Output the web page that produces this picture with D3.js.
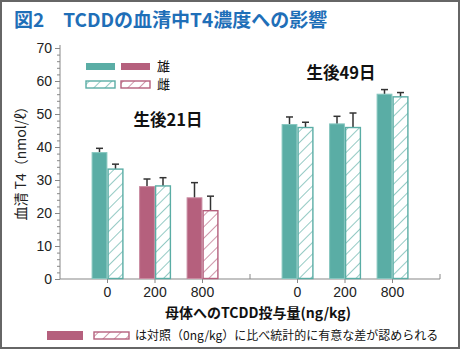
<!DOCTYPE html>
<html><head><meta charset="utf-8">
<script src="https://cdn.jsdelivr.net/npm/d3@7"></script>
<style>
html,body{margin:0;padding:0;background:#fff;}
svg{display:block;font-family:"Liberation Sans","Noto Sans CJK JP",sans-serif;}
</style></head>
<body>
<script>
// ---- data ----
const panels = ["生後21日", "生後49日"];
const doses = ["0", "200", "800"];
const maleMean   = [[38.3, 28.0, 24.6], [46.8, 47.0, 56.0]];
const maleErr    = [[1.3, 2.3, 4.6],   [2.3, 2.3, 1.4]];
const femaleMean = [[33.3, 28.2, 20.7], [45.9, 45.9, 55.2]];
const femaleErr  = [[1.5, 2.5, 4.4],   [1.6, 4.4, 1.3]];
const maleSig    = [[false, true, true],  [false, false, false]];
const femaleSig  = [[false, false, true], [false, false, false]];
const yTicks = [0, 10, 20, 30, 40, 50, 60, 70];
const legendLabels = ["雄", "雌"];
const titleText = "図2　TCDDの血清中T4濃度への影響";
const yLabel = "血清 T4（nmol/ℓ）";
const xLabel = "母体へのTCDD投与量(ng/kg)";
const noteText = "は対照（0ng/kg）に比べ統計的に有意な差が認められる";

const W = 460, H = 349;
const TEAL = "#5aada5", TEAL_E = "#86c6bf", ROSE = "#b5607d", ROSE_E = "#c98aa0";

const svg = d3.select("body").append("svg").attr("width", W).attr("height", H);
const defs = svg.append("defs");
function hatch(id, color) {
  const p = defs.append("pattern").attr("id", id).attr("patternUnits", "userSpaceOnUse")
    .attr("width", 8).attr("height", 8).attr("patternTransform", "rotate(45)");
  p.append("rect").attr("width", 8).attr("height", 8).attr("fill", "#fff");
  p.append("line").attr("x1", 0).attr("y1", 0).attr("x2", 0).attr("y2", 8)
    .attr("stroke", color).attr("stroke-width", 1.3);
}
hatch("hT", TEAL); hatch("hR", ROSE);

// frame
svg.append("rect").attr("x", 1).attr("y", 1).attr("width", W - 2).attr("height", H - 2)
  .attr("fill", "#fff").attr("stroke", "#666").attr("stroke-width", 2);

// title
svg.append("text").attr("x", 14).attr("y", 27).attr("fill", "#1f6fb8")
  .attr("font-size", 19).attr("font-weight", "bold")
  .attr("font-family", "'Noto Sans CJK JP',sans-serif").text(titleText);

// scales
const y = d3.scaleLinear().domain([0, 70]).range([279, 48]);
const xPanel = d3.scaleBand().domain(panels).range([60, 440]);
const xDose = d3.scaleBand().domain(doses).range([0, xPanel.bandwidth()]).paddingOuter(0.5);
const xSex = d3.scaleBand().domain(["m", "f"]).range([-16, 16]);
const cx = (p, d) => xPanel(p) + xDose(d) + xDose.bandwidth() / 2;

// y axis
const yAxisG = svg.append("g").attr("transform", "translate(60,0)");
yAxisG.call(d3.axisLeft(y).tickValues(d3.range(0, 71, 2)).tickSize(3).tickFormat(""));
yAxisG.call(g => g.selectAll(".tick line").attr("stroke", "#888"));
yAxisG.select(".domain").attr("stroke", "#888").attr("d", "M0,45V279");
const yLab = svg.append("g").attr("transform", "translate(60,0)")
  .call(d3.axisLeft(y).tickValues(yTicks).tickSize(5).tickPadding(3));
yLab.select(".domain").remove();
yLab.selectAll(".tick line").attr("stroke", "#888");
yLab.selectAll("text").attr("font-size", 14).attr("fill", "#222")
  .attr("font-family", "'Liberation Sans',sans-serif");

// x axis line
svg.append("line").attr("x1", 60).attr("x2", 440).attr("y1", 279).attr("y2", 279)
  .attr("stroke", "#888").attr("stroke-width", 1.2);
[xPanel(panels[1]), 440].forEach(xx => svg.append("line").attr("x1", xx).attr("x2", xx)
  .attr("y1", 279).attr("y2", 274).attr("stroke", "#888"));

panels.forEach((p, pi) => {
  const g = svg.append("g").attr("transform", `translate(${xPanel(p)},279)`);
  const ax = d3.axisBottom(xDose).tickSize(4).tickPadding(4);
  g.call(ax);
  g.select(".domain").remove();
  g.selectAll(".tick line").attr("stroke", "#888");
  g.selectAll("text").attr("font-size", 14).attr("fill", "#222")
    .attr("font-family", "'Liberation Sans',sans-serif");

  doses.forEach((d, di) => {
    const c = cx(p, d);
    const bars = [
      {k: "m", v: maleMean[pi][di], e: maleErr[pi][di], sig: maleSig[pi][di], solid: true},
      {k: "f", v: femaleMean[pi][di], e: femaleErr[pi][di], sig: femaleSig[pi][di], solid: false}
    ];
    bars.forEach(b => {
      const x0 = c + xSex(b.k);
      const col = b.sig ? ROSE : TEAL;
      const edge = b.sig ? ROSE_E : TEAL_E;
      const xm = x0 + xSex.bandwidth() / 2;
      svg.append("line").attr("x1", xm).attr("x2", xm).attr("y1", y(b.v)).attr("y2", y(b.v + b.e))
        .attr("stroke", "#333").attr("stroke-width", 1.5);
      svg.append("line").attr("x1", xm - 3.5).attr("x2", xm + 3.5).attr("y1", y(b.v + b.e)).attr("y2", y(b.v + b.e))
        .attr("stroke", "#333").attr("stroke-width", 1.5);
      svg.append("rect").attr("x", x0 + 0.6).attr("y", y(b.v))
        .attr("width", xSex.bandwidth() - 1.2).attr("height", y(0) - y(b.v) - 0.5)
        .attr("fill", b.solid ? col : (b.sig ? "url(#hR)" : "url(#hT)"))
        .attr("stroke", b.solid ? edge : col).attr("stroke-width", b.solid ? 1 : 1.4);
    });
  });
});

// panel labels
svg.append("text").attr("x", 168).attr("y", 126).attr("text-anchor", "middle")
  .attr("font-size", 16.5).attr("font-weight", "bold").attr("fill", "#111")
  .attr("font-family", "'Noto Sans CJK JP',sans-serif").text(panels[0]);
svg.append("text").attr("x", 341).attr("y", 79).attr("text-anchor", "middle")
  .attr("font-size", 16.5).attr("font-weight", "bold").attr("fill", "#111")
  .attr("font-family", "'Noto Sans CJK JP',sans-serif").text(panels[1]);

// legend
const legRows = [{y: 63, solid: true}, {y: 81, solid: false}];
legRows.forEach((r, i) => {
  [[86, TEAL, "url(#hT)"], [121, ROSE, "url(#hR)"]].forEach(([lx, col, pat]) => {
    svg.append("rect").attr("x", lx).attr("y", r.y).attr("width", 29).attr("height", 7)
      .attr("fill", r.solid ? col : pat).attr("stroke", col).attr("stroke-width", r.solid ? 0 : 1.4);
  });
  svg.append("text").attr("x", 157).attr("y", r.y + 8).attr("font-size", 13)
    .attr("font-family", "'Noto Sans CJK JP',sans-serif").attr("fill", "#111").text(legendLabels[i]);
});

// axis titles
svg.append("text").attr("transform", "translate(26,160) rotate(-90)").attr("text-anchor", "middle")
  .attr("font-size", 14).attr("fill", "#222")
  .attr("font-family", "'Noto Sans CJK JP',sans-serif").text(yLabel);
svg.append("text").attr("x", 258).attr("y", 318).attr("text-anchor", "middle")
  .attr("font-size", 14).attr("font-weight", "bold").attr("fill", "#111")
  .attr("font-family", "'Noto Sans CJK JP',sans-serif").text(xLabel);

// footnote
svg.append("rect").attr("x", 47).attr("y", 331).attr("width", 36).attr("height", 9).attr("fill", ROSE);
svg.append("rect").attr("x", 94).attr("y", 332).attr("width", 35).attr("height", 7)
  .attr("fill", "url(#hR)").attr("stroke", ROSE).attr("stroke-width", 1.4);
svg.append("text").attr("x", 135).attr("y", 340).attr("font-size", 12).attr("fill", "#111")
  .attr("font-family", "'Noto Sans CJK JP',sans-serif").text(noteText);
</script>
</body></html>
